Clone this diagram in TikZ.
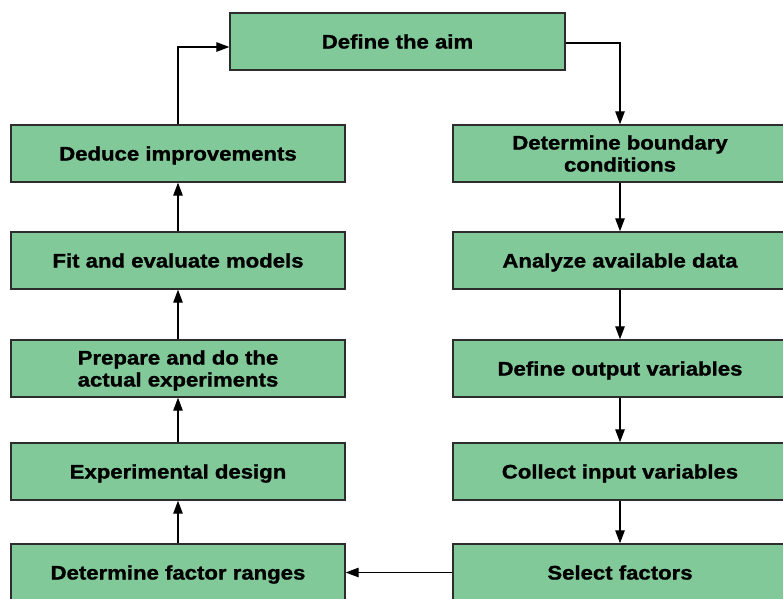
\documentclass[tikz,border=0pt]{standalone}
\usepackage{fontspec}
\usetikzlibrary{arrows.meta}
\newfontfamily\boxfont{Liberation Sans}[FakeStretch=1.13,FakeBold=1.3]
\definecolor{boxgreen}{RGB}{130,201,154}
\definecolor{boxedge}{RGB}{45,45,45}
\tikzset{
  stepbox/.style={draw=boxedge, line width=1.4pt, fill=boxgreen, minimum width=334pt, minimum height=57pt,
    inner sep=0pt, align=center, font=\boxfont\bfseries\fontsize{19.6}{22}\selectfont, text=black,
    text height=14pt, text depth=0pt},
  twoline/.style={text height=36pt, text depth=0pt},
  arr/.style={draw=black, line width=1.2pt, -{Triangle[length=13pt,width=9.5pt]}}
}
\begin{document}
\begin{tikzpicture}[x=1pt,y=-1pt]
\useasboundingbox (0,0) rectangle (783,598);
\clip (0,0) rectangle (783,598);
\fill[white] (0,0) rectangle (783,598);
\node[stepbox, minimum width=335pt] (aim) at (397.5,41.5) {Define the aim};
% left column
\node[stepbox] (ded) at (178,153.5) {Deduce improvements};
\node[stepbox] (fit) at (178,260.5) {Fit and evaluate models};
\node[stepbox, twoline] (prep) at (178,368.5) {Prepare and do the\\actual experiments};
\node[stepbox] (exd) at (178,471.5) {Experimental design};
\node[stepbox] (dfr) at (178,572.5) {Determine factor ranges};
% right column
\node[stepbox, twoline] (dbc) at (620,153.5) {Determine boundary\\conditions};
\node[stepbox] (ana) at (620,260.5) {Analyze available data};
\node[stepbox] (out) at (620,368.5) {Define output variables};
\node[stepbox] (inp) at (620,471.5) {Collect input variables};
\node[stepbox] (sel) at (620,572.5) {Select factors};
% connectors
\draw[arr] ([yshift=-1.5pt]aim.east) -| (dbc.north);
\draw[arr] (dbc) -- (ana);
\draw[arr] (ana) -- (out);
\draw[arr] (out) -- (inp);
\draw[arr] (inp) -- (sel);
\draw[arr] (sel) -- (dfr);
\draw[arr] (dfr) -- (exd);
\draw[arr] (exd) -- (prep);
\draw[arr] (prep) -- (fit);
\draw[arr] (fit) -- (ded);
\draw[arr] (ded.north) |- ([yshift=-5.5pt]aim.west);
\end{tikzpicture}
\end{document}
